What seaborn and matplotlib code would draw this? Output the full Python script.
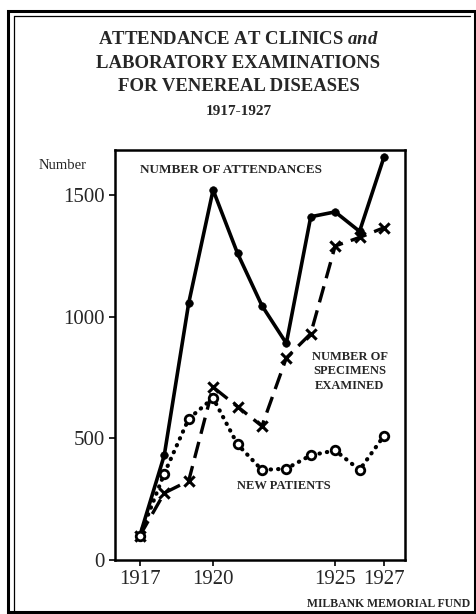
import matplotlib
matplotlib.use("Agg")
import matplotlib.pyplot as plt
import seaborn as sns
import pandas as pd
from matplotlib.patches import Rectangle
from matplotlib.lines import Line2D

# values
years = [1917, 1918, 1919, 1920, 1921, 1922, 1923, 1924, 1925, 1926, 1927]
attendances = [100, 430, 1055, 1520, 1260, 1045, 890, 1410, 1430, 1350, 1655]
specimens = [100, 275, 325, 710, 630, 550, 830, 930, 1290, 1325, 1365]
new_patients = [100, 355, 580, 665, 475, 370, 375, 430, 450, 370, 510]
year_ticks = [1917, 1920, 1925, 1927]
value_ticks = [0, 500, 1000, 1500]
value_labels = ["0", "500", "1000", "1500"]

df = pd.DataFrame({"year": years, "attendances": attendances,
                   "specimens": specimens, "new_patients": new_patients})

sns.set_style("white")
plt.rcParams["font.family"] = ["Liberation Serif", "DejaVu Serif"]
plt.rcParams["mathtext.fontset"] = "custom"
plt.rcParams["mathtext.it"] = "Liberation Serif:italic:bold"

fig = plt.figure(figsize=(4.77, 6.14), dpi=100)
ax = fig.add_axes([0.241, 0.088, 0.608, 0.668])

# lines
sns.lineplot(data=df, x="year", y="attendances", ax=ax, color="black",
             linewidth=2.6)
sns.lineplot(data=df, x="year", y="specimens", ax=ax, color="black",
             linewidth=2.4, linestyle=(0, (5, 2.5)))
sns.lineplot(data=df, x="year", y="new_patients", ax=ax, color="black",
             linewidth=3.0, linestyle=(0, (0.1, 1.7)), dash_capstyle="round")

# markers
sns.scatterplot(data=df, x="year", y="attendances", ax=ax, color="black",
                marker="o", s=30, edgecolor="black", zorder=5)
sns.scatterplot(data=df, x="year", y="specimens", ax=ax, color="black",
                marker="x", s=55, linewidth=2.2, zorder=5)
sns.scatterplot(data=df, x="year", y="new_patients", ax=ax, facecolor="white",
                marker="o", s=38, edgecolor="black", linewidth=2.0, zorder=5)

ax.set_xlim(1915.98, 1927.86)
ax.set_ylim(0, 1685)
ax.set_xticks(year_ticks)
ax.set_xticklabels([str(y) for y in year_ticks], fontsize=15)
ax.set_yticks(value_ticks)
ax.set_yticklabels(value_labels, fontsize=15)
ax.tick_params(axis="both", direction="out", length=4, width=1.2,
               left=True, bottom=True, color="black")
for s in ax.spines.values():
    s.set_color("black")
    s.set_linewidth(1.8)
ax.set_xlabel("")
ax.set_ylabel("")

ax.text(1917, 1590, "NUMBER OF ATTENDANCES", fontsize=9.5, fontweight="bold")
ax.text(1925.6, 860, "NUMBER OF\nSPECIMENS\nEXAMINED", fontsize=9,
        fontweight="bold", ha="center", va="top", linespacing=1.3)
ax.text(1922.9, 305, "NEW PATIENTS", fontsize=9, fontweight="bold",
        ha="center", va="center")

fig.text(0.5, 0.928, "ATTENDANCE AT CLINICS $\\it{and}$", ha="center",
         fontsize=13.5, fontweight="bold")
fig.text(0.5, 0.889, "LABORATORY EXAMINATIONS", ha="center", fontsize=13.5,
         fontweight="bold")
fig.text(0.5, 0.851, "FOR VENEREAL DISEASES", ha="center", fontsize=13.5,
         fontweight="bold")
fig.text(0.5, 0.812, "1917-1927", ha="center", fontsize=11, fontweight="bold")
fig.text(0.08, 0.725, "Number", fontsize=10.5)
fig.text(0.985, 0.012, "MILBANK MEMORIAL FUND", ha="right", fontsize=8.5,
         fontweight="bold")

# double frame round the figure
W, H = 477, 614
fig.patches.append(Rectangle((8 / W, 1 - 612 / H), 467 / W, 601 / H,
                             transform=fig.transFigure, fill=False,
                             edgecolor="black", linewidth=2.2))
fig.lines.append(Line2D([14 / W, 14 / W], [1 - 612 / H, 1 - 16 / H],
                        transform=fig.transFigure, color="black", linewidth=0.9))
fig.lines.append(Line2D([14 / W, 470 / W], [1 - 16 / H, 1 - 16 / H],
                        transform=fig.transFigure, color="black", linewidth=0.9))

fig.savefig("out.png", dpi=100)
